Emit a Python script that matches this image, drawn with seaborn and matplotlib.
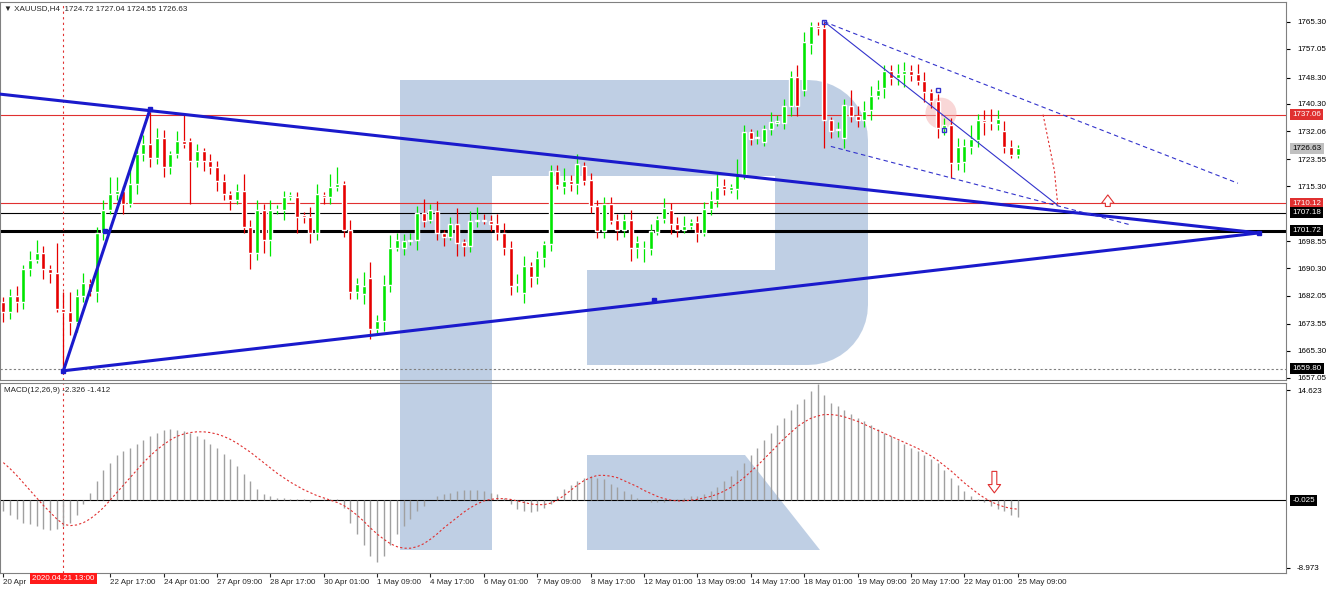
import numpy as np
import matplotlib
matplotlib.use("Agg")
import matplotlib.pyplot as plt
import seaborn as sns
from matplotlib.patches import Polygon

opens = [1680,1677,1682,1680,1690,1693,1695,1690,1689,1678,1677,1674,1682,1686,1683,1701,1708,1713,1714,1710,
1716,1725,1728,1724,1730,1721,1725,1729,1729,1723,1726,1723,1721,1717,1713,1711,1714,1703,1695,1708,
1699,1708,1708,1712,1712,1706.5,1706,1701,1712.5,1712,1715,1716,1702,1683,1682.6,1687.4,1671.8,1674.3,1685.2,1696.5,
1696.5,1698.5,1699,1707.3,1705,1707.7,1701,1700,1703.8,1698.3,1697.2,1704.8,1705,1704.7,1703.8,1701,1696.5,1685.2,1682.9,1691.2,
1687.7,1693.6,1697.7,1719.9,1715,1716.8,1716,1721.6,1717.3,1709.2,1701.7,1710,1705,1702,1705,1696.5,1696.4,1696.3,1701.5,1705.2,
1708.2,1703.8,1702,1703.2,1704.3,1701.2,1708.5,1711,1715.5,1714.2,1714.5,1718.6,1731.8,1730.1,1728.6,1732.8,1734.5,1734.6,1739.7,1748.4,
1744.7,1758.5,1764.1,1763.3,1735.3,1732.3,1729.9,1739.7,1736.7,1735.3,1738.4,1742.7,1745.2,1750.2,1748.2,1749.4,1750.2,1749.4,1747.2,1744,
1741.2,1732.9,1734,1722.3,1722.6,1727.1,1729.3,1735.4,1734.9,1734.3,1732.1,1727.3,1724.8]
closes = [1677,1682,1680,1690,1693,1695,1690,1689,1678,1677,1674,1682,1686,1683,1701,1708,1713,1714,1710,1716,
1725,1728,1724,1730,1721,1725,1729,1728,1723,1726,1723,1721,1717,1713,1711,1714,1703,1695,1708,1699,
1708,1708.5,1712,1712.5,1706,1706,1701,1713,1712,1715,1716,1702,1683,1685.5,1685.1,1671.8,1674.3,1685.2,1696.6,1699,
1698.7,1699,1707.3,1704.8,1708,1701,1700,1703.8,1698,1697,1704.7,1705,1704.7,1703.8,1701,1696.5,1685.1,1685.7,1691,1687.6,
1693.6,1697.7,1719.9,1715.6,1716.9,1716,1722.1,1716.8,1709.2,1701.7,1710,1704.8,1702,1705,1696.5,1698.2,1696.5,1701.7,1705.2,1708.7,
1703.8,1702,1703.2,1704.3,1701.2,1708.5,1711,1715.2,1714.5,1715,1718.6,1731.9,1729.8,1730.3,1732.8,1734.8,1735,1739.7,1748.4,1739.7,
1759.1,1764.1,1763.3,1735.3,1732.1,1732.8,1739.9,1736.7,1735.4,1738.2,1742.7,1744.7,1750.2,1748.2,1749.4,1750.2,1749.2,1747.2,1744,1741.2,
1732.9,1734,1722.3,1727.1,1727.6,1729.8,1735.4,1734.9,1734.4,1735.6,1727.3,1724.8,1726.9]
wick_up = [1.5,2,3,1.5,2.5,4,2,1.5,8.9,5, 6,2,3,1,2,3,5,4,1.5,5, 2,3,10,3,2.5,1,3,8.7,1,2,
1,2,2,2,1,2,5,2,3,2, 3,1,2,1,1.5,1,3,3,1,4, 5,1,3,2,4,5,2,3,4,2, 2,2,2,4,2,3,1,2,5,1,
3,4,2,2,3,3,2,3,3,1, 2,1,2,2,4,2,3,1,2,2, 2,2,2,2,3,2,2,2,1,3, 2,2,3,1,2,2,3,4,2,1,
5,2,1,2,1,3,2,2,2,3.6, 3,1.2,1,2,1,2,2,5,3,3, 3,3,2,2,3,3,2,3,2.7,1, 2,2,2,3,2,4,2,3,4,3,
3,2,1]
wick_dn = [3,2,3,2,2,1,3,3,1,17.2, 4,3,2,1,3,2,1,2,3,1, 3,2,3,2,3,2,1,1,13,2,
3,2,3,2,3,1,2,5,2,4, 5,1,3,1,5,2,3,2,2,2, 1,2,2,2,3,3,1,3,2,1, 2,1,3,2,1,2,3,1,4,3,
2,2,1,2,2,2,3,2,3,3, 2,3,2,1,2,2,3,1,2,2, 2,1,3,2,4,3,4,2,1,1, 3,2,1,1,3,1,2,2,2,1,
3,1,2,2,1,2,1,2,3,3, 2,3,2,8.3,2,2,3,2,2,2, 3,1,3,2,2,4,2,1,3,2, 3,2,4.5,2,3,2,2,4,2,2,
2,1,1]
macd_hist = [-1.5,-2,-2.5,-3,-3.2,-3.5,-3.8,-4,-3.8, -3.5,-3,-2,-0.5,1,
2.5,4,5,6,6.5,7,7.5,8, 8.5,9,9.3,9.5,9.4,9.2, 9,8.6,8.2,7.5,7,6.2,5.5,4.5,3.5,2.5,
1.5,0.8,0.5,0.3,0.3,0.2, 0.2,0.1,-0.2,0,0.1,0.2,0.1,-1, -3,-4.5,-6,-7.5,-8.3,-7.5,-6,-4.5,
-3.5,-2.5,-1.5,-0.8,0,0.5,0.8,1, 1.2,1.3,1.4,1.3,1.2,1,0.8,0.3,-0.5,-1.2,-1.5,-1.6,
-1.4,-1,-0.5,0.5, 1.5,2,2.5,3,3.2,3,2.8,2.2,1.8,1.2,0.8, 0.3,0,-0.2,-0.3,-0.2,0,0.1,0.3,0.5,0.6,0.8,
1.2,1.8,2.5,3.2,4,5,6,7,8,9,10,11,12,12.8,13.5,14.5,15.5,14,
13,12.5,12,11.5,11,10.5,10,9.5,9,8.5,8, 7.5,7,6.5,6,5.5,5,4,3,2,1.2,0.6,
0.2,-0.3,-0.8,-1.2,-1.5,-2,-2.3]
macd_signal = [5,4.2,3.3,2.3,1.3,0.3,-0.7,-1.6,-2.5,-3.2, -3.4,-3.3,-3,-2.5,-1.8,-1,0,1,2,3,
4,5,5.9,6.7,7.4,8,8.5,8.8,9,9.1, 9.1,9,8.8,8.5,8.1,7.6,7,6.4,5.7,5, 4.3,3.6,3,2.4,1.9,1.4,1,0.6,0.3,0,
-0.3,-0.7,-1.3,-2,-2.8,-3.7,-4.5,-5.2,-5.8,-6.2, -6.4,-6.4,-6.2,-5.8,-5.2,-4.5,-3.7,-3,-2.3,-1.6,
-1,-0.5,-0.1,0.1,0.2,0.2,0.1,-0.1,-0.3,-0.5, -0.6,-0.6,-0.4,0,0.6,1.3,2,2.6,3,3.3,
3.3,3.2,3,2.6,2.2,1.8,1.3,0.9,0.5,0.2, 0,-0.1,-0.1,0,0.1,0.3,0.5,0.8,1.2,1.7,
2.3,3,3.8,4.6,5.5,6.4,7.3,8.2,9,9.8, 10.4,10.9,11.2,11.4,11.4,11.3,11.1,10.8,10.5,10.1,
9.7,9.3,8.9,8.5,8.1,7.7,7.3,6.9,6.4,5.9, 5.3,4.6,3.9,3.1,2.3,1.6,0.9,0.3,-0.2,-0.6, -0.9,-1.1,-1.2]

xtick_pos = [0, 8, 16, 24, 32, 40, 48, 56, 64, 72, 80, 88, 96, 104, 112, 120, 128, 136, 144, 152]
xtick_labels = ["20 Apr", "", "22 Apr 17:00", "24 Apr 01:00", "27 Apr 09:00", "28 Apr 17:00",
                "30 Apr 01:00", "1 May 09:00", "4 May 17:00", "6 May 01:00", "7 May 09:00", "8 May 17:00",
                "12 May 01:00", "13 May 09:00", "14 May 17:00", "18 May 01:00", "19 May 09:00", "20 May 17:00",
                "22 May 01:00", "25 May 09:00"]
cursor_pos = 9
cursor_label = "2020.04.21 13:00"
price_ticks = [1765.30, 1757.05, 1748.30, 1740.30, 1732.06, 1723.55, 1715.30, 1698.55, 1690.30, 1682.05, 1673.55, 1665.30, 1657.05]
levels_red = [1737.06, 1710.12]
level_thin = 1707.18
level_thick = 1701.72
level_low = 1659.80
last_price = 1726.63
macd_ticks = [14.623, -8.973]

sns.set_style("white")
plt.rcParams['font.family'] = ['Liberation Sans', 'DejaVu Sans']
FS = 5.8
W, H = 1332, 589
fig = plt.figure(figsize=(W/100, H/100), dpi=100)

def fx(x): return x / W
def fy(y): return 1 - y / H

ax = fig.add_axes([0, fy(380), fx(1286), fy(2) - fy(380)])
ax2 = fig.add_axes([0, fy(573), fx(1286), fy(383) - fy(573)], sharex=ax)
for a in (ax, ax2):
    a.patch.set_alpha(0)
    for s in a.spines.values():
        s.set_color('#808080'); s.set_linewidth(0.8)
    a.yaxis.tick_right()
    a.tick_params(axis='y', labelsize=FS, length=3, pad=5, colors='black')

# watermark "R"
t = np.linspace(0, np.pi/2, 12)
arc1 = [(808 + 60*np.sin(a), 140 - 60*np.cos(a)) for a in t]
arc2 = [(808 + 60*np.cos(a), 305 + 60*np.sin(a)) for a in t]
pts = [(400, 80)] + arc1 + arc2 + [(587, 365), (587, 270), (775, 270), (775, 176), (492, 176), (492, 550), (400, 550)]
fig.patches.append(Polygon([(fx(x), fy(y)) for x, y in pts], closed=True, transform=fig.transFigure,
                           facecolor='#b0c4de', alpha=0.8, edgecolor='none', zorder=-1))
leg = [(587, 455), (745, 455), (820, 550), (587, 550)]
fig.patches.append(Polygon([(fx(x), fy(y)) for x, y in leg], closed=True, transform=fig.transFigure,
                           facecolor='#b0c4de', alpha=0.8, edgecolor='none', zorder=-1))

n = len(closes)
idx = np.arange(n)
o = np.array(opens); c = np.array(closes)
hi = np.maximum(o, c) + np.array(wick_up)
lo = np.minimum(o, c) - np.array(wick_dn)
up = c >= o
col = np.where(up, '#00e600', '#e60000')
ax.vlines(idx, lo, hi, colors=col, linewidth=0.9, zorder=3)
ax.bar(idx, np.maximum(np.abs(c - o), 0.25), bottom=np.minimum(o, c), width=0.6, color=col, zorder=4)

# levels
for lv in levels_red:
    ax.axhline(lv, color='#e03030', lw=0.8, zorder=2)
ax.axhline(level_thin, color='black', lw=0.8, zorder=2)
ax.axhline(level_thick, color='black', lw=2.2, zorder=2)
ax.axhline(level_low, color='#808080', lw=0.8, ls=(0, (2, 2)), zorder=2)
ax.axvline(cursor_pos, color='#e03030', lw=0.8, ls=(0, (2, 3)), zorder=2)
ax2.axvline(cursor_pos, color='#e03030', lw=0.8, ls=(0, (2, 3)), zorder=2)

# triangle
blue = '#1a1acc'
ax.plot([-0.5, 188.1], [1743.3, 1701.1], color=blue, lw=2.2, zorder=5)
ax.plot([9, 188.1], [1659.2, 1701.1], color=blue, lw=2.2, zorder=5)
ax.plot([9, 22], [1659.2, 1738.8], color=blue, lw=2.2, zorder=5)
ax.plot([9, 22, 15.2, 97.5, 188.1], [1659.2, 1738.8, 1701.6, 1680.8, 1701.1], ls='none', marker='s', ms=3.5, color=blue, zorder=6)
# channel
ax.plot([123, 185], [1765.3, 1716.2], color='#3333cc', lw=0.8, ls=(0, (4, 3)), zorder=5)
ax.plot([124, 169], [1727.4, 1703.5], color='#3333cc', lw=0.8, ls=(0, (4, 3)), zorder=5)
ax.plot([123, 158], [1765.3, 1709.5], color='#3333cc', lw=0.8, zorder=5)
ax.plot([123, 140, 141], [1765.3, 1744.6, 1732.5], ls='none', marker='s', ms=3.5, mfc='none', mec='#3333cc', zorder=6)
ax.plot([155.8, 157.5, 158], [1737.06, 1720, 1709.5], color='#e03030', lw=0.8, ls=(0, (2, 2)), zorder=5)
ax.annotate('', xy=(165.5, 1713.5), xytext=(165.5, 1708.3),
            arrowprops=dict(arrowstyle='simple,head_width=0.9,head_length=0.6,tail_width=0.35', fc='white', ec='#e03030', lw=0.8), zorder=7)
ax.scatter([140.5], [1737.5], s=500, color='#f4b0b0', alpha=0.5, zorder=2, edgecolors='none')

ax.set_ylim(1656.4, 1771.3)
ax.set_xlim(-0.5, 192.2)
ax.set_yticks(price_ticks)
ax.set_yticklabels([f"{v:.2f}" for v in price_ticks])
ax.tick_params(axis='x', bottom=False, labelbottom=False)

def box(a, val, text, fc, tc='white'):
    a.text(1.005, val, text, transform=a.get_yaxis_transform(), fontsize=FS, color=tc, va='center', ha='left',
           bbox=dict(boxstyle='square,pad=0.25', fc=fc, ec='none'), zorder=10, clip_on=False)

box(ax, levels_red[0], "1737.06", '#e03030')
box(ax, levels_red[1], "1710.12", '#e03030')
box(ax, level_thin, "1707.18", 'black')
box(ax, level_thick, "1701.72", 'black')
box(ax, last_price, "1726.63", '#c0c0c0', 'black')
box(ax, level_low, "1659.80", 'black')

fig.text(fx(4), fy(9), "▼ XAUUSD,H4  1724.72 1727.04 1724.55 1726.63", fontsize=FS, va='center')

# MACD
ax2.vlines(idx, 0, macd_hist, colors='#a0a0a0', lw=1.0, zorder=3)
sns.lineplot(x=idx, y=macd_signal, ax=ax2, color='#e03030', lw=0.8, linestyle=(0, (2, 2)), zorder=4)
ax2.axhline(0, color='black', lw=0.8, zorder=2)
ax2.set_ylim(-9.7, 15.6)
ax2.set_yticks(macd_ticks)
ax2.set_yticklabels(["14.623", "-8.973"])
box(ax2, 0, "-0.025", 'black')
ax2.annotate('', xy=(148.5, 0.6), xytext=(148.5, 4.2),
             arrowprops=dict(arrowstyle='simple,head_width=0.9,head_length=0.6,tail_width=0.35', fc='white', ec='#e03030', lw=0.8), zorder=7)
fig.text(fx(4), fy(390), "MACD(12,26,9) -2.326 -1.412", fontsize=FS, va='center')

ax2.set_xticks(xtick_pos)
ax2.set_xticklabels(xtick_labels, fontsize=FS, ha='left')
ax2.tick_params(axis='x', bottom=True, length=3, pad=1)
ax2.text(cursor_pos, -0.012, cursor_label, transform=ax2.get_xaxis_transform(), fontsize=FS, color='white',
         ha='center', va='top', bbox=dict(boxstyle='square,pad=0.25', fc='#ff1a1a', ec='none'), zorder=10, clip_on=False)

fig.savefig("out.png", dpi=100)
